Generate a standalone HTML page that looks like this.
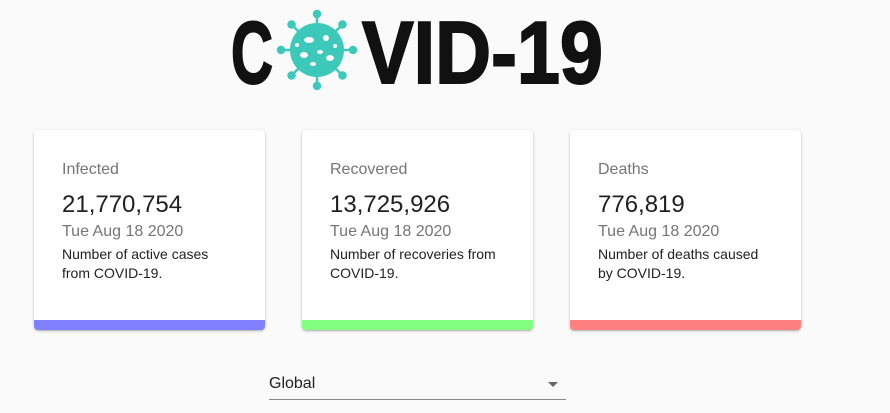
<!DOCTYPE html>
<html><head><meta charset="utf-8"><style>
body{margin:0;width:890px;height:413px;background:#fafafa;font-family:"Liberation Sans",Arial,sans-serif;overflow:hidden;position:relative}
.card{position:absolute;top:130px;width:231px;height:200px;background:#fff;border-radius:4px;box-shadow:0 1px 3px rgba(0,0,0,.2),0 1px 1px rgba(0,0,0,.14);overflow:hidden}
.card .t{position:absolute;left:28px;top:31px;font-size:16px;color:#757575}
.card .n{position:absolute;left:28px;top:61px;font-size:24px;color:#212121}
.card .d{position:absolute;left:28px;top:93px;font-size:16px;color:#757575}
.card .p{position:absolute;left:28px;top:115px;font-size:14px;line-height:19px;color:#212121;width:171px}
.card .b{position:absolute;left:0;bottom:0;width:100%;height:10px}
</style></head><body>
<svg style="position:absolute;left:0;top:0" width="890" height="100">
<text x="231" y="83" font-family="'Liberation Sans Narrow','Liberation Sans',sans-serif" font-weight="bold" font-size="88" textLength="42" lengthAdjust="spacingAndGlyphs" fill="#111" stroke="#111" stroke-width="2">C</text>
<text x="362" y="83" font-family="'Liberation Sans Narrow','Liberation Sans',sans-serif" font-weight="bold" font-size="88" textLength="241" lengthAdjust="spacingAndGlyphs" fill="#111" stroke="#111" stroke-width="2">VID-19</text>
<g fill="#3cc9b9" stroke="#3cc9b9" stroke-width="2.5">
<circle cx="317" cy="50" r="27" stroke="none"/>
<g id="sp"><line x1="317" y1="24" x2="317" y2="15"/><circle cx="317" cy="14" r="3"/></g>
<use href="#sp" transform="rotate(45 317 50)"/><use href="#sp" transform="rotate(90 317 50)"/><use href="#sp" transform="rotate(135 317 50)"/><use href="#sp" transform="rotate(180 317 50)"/><use href="#sp" transform="rotate(225 317 50)"/><use href="#sp" transform="rotate(270 317 50)"/><use href="#sp" transform="rotate(315 317 50)"/>
</g>
<g fill="#fff"><ellipse cx="309" cy="40" rx="5" ry="3"/><ellipse cx="326" cy="38" rx="3" ry="3"/><ellipse cx="304" cy="55" rx="4" ry="3"/><ellipse cx="320" cy="52" rx="3" ry="2"/><ellipse cx="330" cy="58" rx="4" ry="3"/><ellipse cx="313" cy="64" rx="3" ry="2"/><ellipse cx="297" cy="45" rx="2" ry="2"/><ellipse cx="335" cy="46" rx="2" ry="2"/></g>
</svg>
<div class="card" style="left:34px">
<div class="t">Infected</div><div class="n">21,770,754</div><div class="d">Tue Aug 18 2020</div><div class="p">Number of active cases from COVID-19.</div><div class="b" style="background:#8080ff"></div></div>
<div class="card" style="left:302px">
<div class="t">Recovered</div><div class="n">13,725,926</div><div class="d">Tue Aug 18 2020</div><div class="p">Number of recoveries from COVID-19.</div><div class="b" style="background:#80ff80"></div></div>
<div class="card" style="left:570px">
<div class="t">Deaths</div><div class="n">776,819</div><div class="d">Tue Aug 18 2020</div><div class="p">Number of deaths caused by COVID-19.</div><div class="b" style="background:#ff8080"></div></div>
<div style="position:absolute;left:269px;top:375px;width:297px;height:24px;border-bottom:1px solid #888;font-size:16px;color:#212121">Global
<div style="position:absolute;right:8px;top:7px;width:0;height:0;border-left:5px solid transparent;border-right:5px solid transparent;border-top:5px solid #666"></div></div>
</body></html>
